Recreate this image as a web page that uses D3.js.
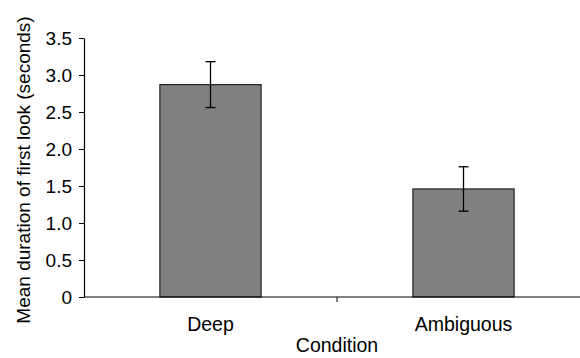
<!DOCTYPE html>
<html>
<head>
<meta charset="utf-8">
<script src="https://cdn.jsdelivr.net/npm/d3@7"></script>
<style>
  body { margin: 0; background: #fff; overflow: hidden; }
  svg { font-family: "Liberation Sans", Arial, sans-serif; }
</style>
</head>
<body>
<svg id="chart" width="580" height="358"></svg>
<script>
// data
const conditions = ["Deep", "Ambiguous"];
const means = [2.87, 1.46];
const errors = [0.31, 0.30];
const yTicks = [0, 0.5, 1.0, 1.5, 2.0, 2.5, 3.0, 3.5];

const margin = { top: 38, right: -10, bottom: 61, left: 84 };
const width = 580 - margin.left - margin.right,
      height = 358 - margin.top - margin.bottom;

const svg = d3.select("#chart");
const chart = svg.append("g")
    .attr("transform", `translate(${margin.left},${margin.top})`);

let x = d3.scaleBand().domain(conditions).range([0, width]).padding(0);
let y = d3.scaleLinear().domain([0, 3.5]).range([height, 0]);
const barW = x.bandwidth() * 0.4;

// y axis
const yAxis = chart.append("g")
    .call(d3.axisLeft(y).tickValues(yTicks).tickSize(5).tickSizeOuter(0)
        .tickFormat(d => d === 0 ? "0" : d3.format(".1f")(d)));
yAxis.select(".domain").attr("stroke", "#000").attr("stroke-width", 1.2);
yAxis.selectAll(".tick line").attr("stroke", "#000");
yAxis.selectAll(".tick text")
    .attr("font-size", "19px")
    .attr("fill", "#000")
    .attr("x", -12);

// bars
chart.selectAll("rect.bar")
    .data(conditions)
    .join("rect")
    .attr("class", "bar")
    .attr("x", d => x(d) + (x.bandwidth() - barW) / 2)
    .attr("y", (d, i) => y(means[i]))
    .attr("width", barW)
    .attr("height", (d, i) => height - y(means[i]))
    .attr("fill", "#808080")
    .attr("stroke", "#222")
    .attr("stroke-width", 1.2);

// error bars
const eb = chart.selectAll("g.err")
    .data(conditions)
    .join("g")
    .attr("class", "err")
    .attr("transform", d => `translate(${x(d) + x.bandwidth() / 2},0)`);
eb.append("line")
    .attr("y1", (d, i) => y(means[i] + errors[i]))
    .attr("y2", (d, i) => y(means[i] - errors[i]))
    .attr("stroke", "#000").attr("stroke-width", 1.3);
eb.append("line")
    .attr("x1", -5).attr("x2", 5)
    .attr("y1", (d, i) => y(means[i] + errors[i]))
    .attr("y2", (d, i) => y(means[i] + errors[i]))
    .attr("stroke", "#000").attr("stroke-width", 1.3);
eb.append("line")
    .attr("x1", -5).attr("x2", 5)
    .attr("y1", (d, i) => y(means[i] - errors[i]))
    .attr("y2", (d, i) => y(means[i] - errors[i]))
    .attr("stroke", "#000").attr("stroke-width", 1.3);

// x axis
const xAxis = chart.append("g")
    .attr("transform", `translate(0,${height})`);
xAxis.append("line")
    .attr("x1", 0).attr("x2", width)
    .attr("stroke", "#000").attr("stroke-width", 1.2);
xAxis.selectAll("line.sep")
    .data(conditions.slice(1))
    .join("line")
    .attr("class", "sep")
    .attr("x1", d => x(d)).attr("x2", d => x(d))
    .attr("y1", 0).attr("y2", 5)
    .attr("stroke", "#000");
xAxis.selectAll("text")
    .data(conditions)
    .join("text")
    .attr("x", d => x(d) + x.bandwidth() / 2)
    .attr("y", 34)
    .attr("text-anchor", "middle")
    .attr("font-size", "19.5px")
    .text(d => d);

// labels
svg.append("text")
    .attr("x", 337)
    .attr("y", 352)
    .attr("text-anchor", "middle")
    .attr("font-size", "19.5px")
    .text("Condition");

svg.append("text")
    .attr("transform", `translate(30,170) rotate(-90)`)
    .attr("text-anchor", "middle")
    .attr("font-size", "19px")
    .text("Mean duration of first look (seconds)");
</script>
</body>
</html>
